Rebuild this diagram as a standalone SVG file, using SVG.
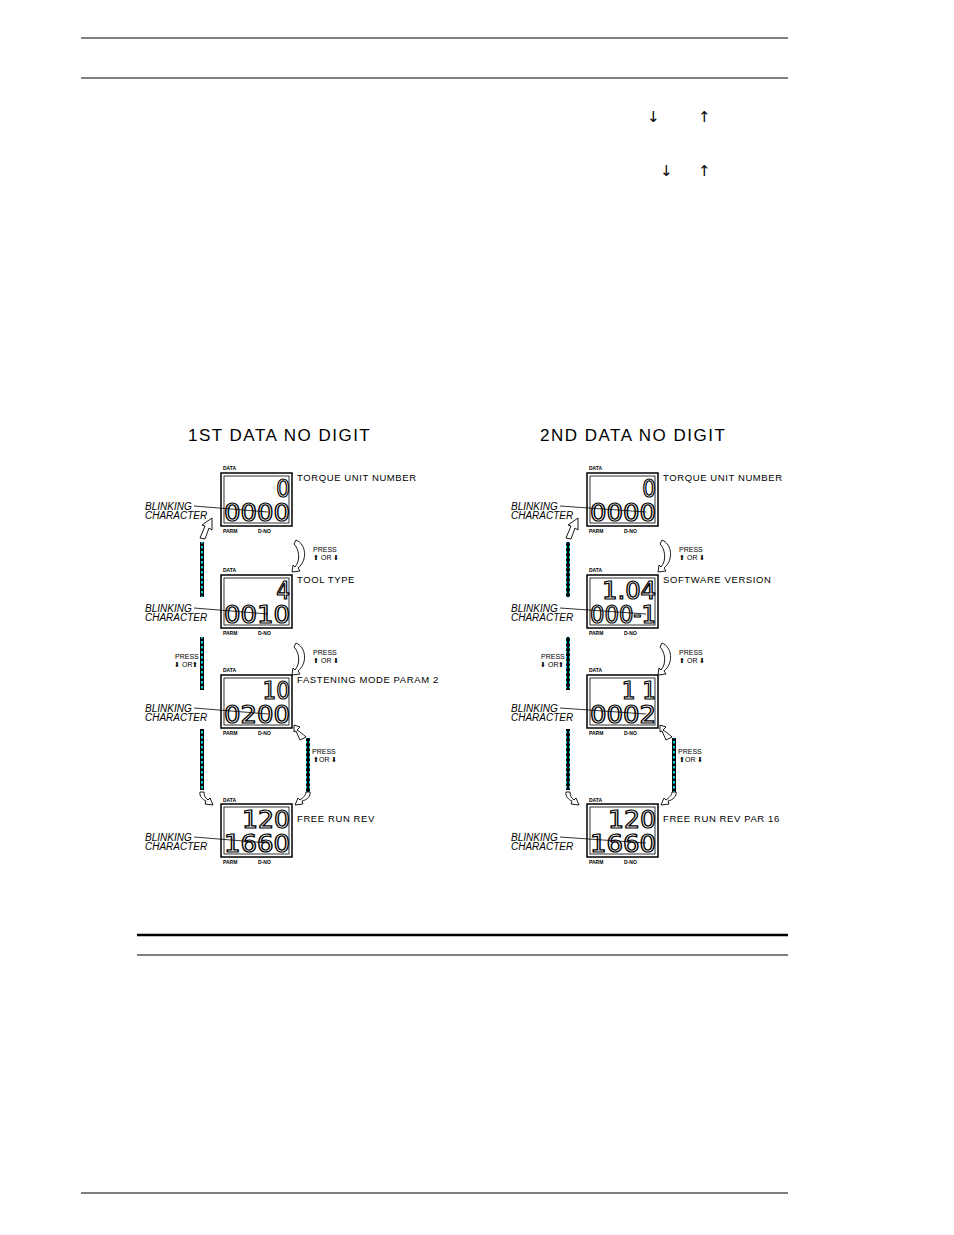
<svg xmlns="http://www.w3.org/2000/svg" width="954" height="1235" viewBox="0 0 954 1235">
<defs>
<style>
.t{font-family:"Liberation Sans",Arial,sans-serif;fill:#000}
.lbl{font-size:9.5px;letter-spacing:0.6px}
.ttl{font-size:17px;letter-spacing:1.5px}
.bl{font-size:10px;font-style:italic}
.sm{font-size:5px;font-weight:bold}
.pr{font-size:7px}
.dig{font-family:"DejaVu Sans Condensed","Liberation Sans Narrow",sans-serif;font-size:24px;fill:#fff;stroke:#000;stroke-width:1.2;text-anchor:end}
.box{fill:none;stroke:#000;stroke-width:1.5}
.arr{fill:#fff;stroke:#000;stroke-width:0.9}
.ln{stroke:#000;stroke-width:0.8;fill:none}
</style>
<pattern id="dots" width="4" height="5" patternUnits="userSpaceOnUse"><rect width="4" height="5" fill="#000"/><rect x="1" y="1" width="2" height="2.5" fill="#00d0e0"/></pattern>
</defs>
<rect width="954" height="1235" fill="#fff"/>
<g id="rules">
<line x1="81" y1="38" x2="788" y2="38" stroke="#000" stroke-width="1"/>
<line x1="81" y1="78" x2="788" y2="78" stroke="#000" stroke-width="1"/>
<line x1="137" y1="935" x2="788" y2="935" stroke="#000" stroke-width="2.5"/>
<line x1="137" y1="955" x2="788" y2="955" stroke="#000" stroke-width="1"/>
<line x1="81" y1="1193" x2="788" y2="1193" stroke="#000" stroke-width="1"/>
</g>
<g id="toparrows" font-family="DejaVu Sans,sans-serif" font-size="15" fill="#000">
<text x="647" y="122">↓</text><text x="698" y="122">↑</text>
<text x="660" y="176">↓</text><text x="698" y="176">↑</text>
</g>
<text class="t ttl" x="188" y="441">1ST DATA NO DIGIT</text>
<text class="t ttl" x="540" y="441">2ND DATA NO DIGIT</text>

<g id="L1">
<text class="t sm" x="223" y="470">DATA</text>
<rect class="box" x="221" y="473" width="71" height="53"/><rect class="ln" x="224" y="476" width="65" height="47"/>
<text class="dig" x="290" y="497">0</text><text class="dig" x="290" y="521" textLength="66" lengthAdjust="spacingAndGlyphs">0000</text>
<text class="t sm" x="223" y="533">PARM</text><text class="t sm" x="258" y="533">D-NO</text>
<text class="t lbl" x="297" y="481">TORQUE UNIT NUMBER</text>
<text class="t bl" x="145" y="510">BLINKING</text><text class="t bl" x="145" y="519">CHARACTER</text>
<line class="ln" x1="194" y1="506" x2="268" y2="512"/>
</g>
<g id="L2">
<text class="t sm" x="223" y="572">DATA</text>
<rect class="box" x="221" y="575" width="71" height="53"/><rect class="ln" x="224" y="578" width="65" height="47"/>
<text class="dig" x="290" y="599">4</text><text class="dig" x="290" y="623" textLength="66" lengthAdjust="spacingAndGlyphs">0010</text>
<text class="t sm" x="223" y="635">PARM</text><text class="t sm" x="258" y="635">D-NO</text>
<text class="t lbl" x="297" y="583">TOOL TYPE</text>
<text class="t bl" x="145" y="612">BLINKING</text><text class="t bl" x="145" y="621">CHARACTER</text>
<line class="ln" x1="194" y1="608" x2="268" y2="614"/>
</g>
<g id="L3">
<text class="t sm" x="223" y="672">DATA</text>
<rect class="box" x="221" y="675" width="71" height="53"/><rect class="ln" x="224" y="678" width="65" height="47"/>
<text class="dig" x="290" y="699">10</text><text class="dig" x="290" y="723" textLength="66" lengthAdjust="spacingAndGlyphs">0200</text>
<text class="t sm" x="223" y="735">PARM</text><text class="t sm" x="258" y="735">D-NO</text>
<text class="t lbl" x="297" y="683">FASTENING MODE PARAM 2</text>
<text class="t bl" x="145" y="712">BLINKING</text><text class="t bl" x="145" y="721">CHARACTER</text>
<line class="ln" x1="194" y1="708" x2="268" y2="714"/>
</g>
<g id="L4">
<text class="t sm" x="223" y="802">DATA</text>
<rect class="box" x="221" y="804" width="71" height="53"/><rect class="ln" x="224" y="807" width="65" height="47"/>
<text class="dig" x="290" y="828" textLength="48" lengthAdjust="spacingAndGlyphs">120</text><text class="dig" x="290" y="852" textLength="66" lengthAdjust="spacingAndGlyphs">1660</text>
<text class="t sm" x="223" y="864">PARM</text><text class="t sm" x="258" y="864">D-NO</text>
<text class="t lbl" x="297" y="822">FREE RUN REV</text>
<text class="t bl" x="145" y="841">BLINKING</text><text class="t bl" x="145" y="850">CHARACTER</text>
<line class="ln" x1="194" y1="837" x2="268" y2="843"/>
</g>

<g id="R1">
<text class="t sm" x="589" y="470">DATA</text>
<rect class="box" x="587" y="473" width="71" height="53"/><rect class="ln" x="590" y="476" width="65" height="47"/>
<text class="dig" x="656" y="497">0</text><text class="dig" x="656" y="521" textLength="66" lengthAdjust="spacingAndGlyphs">0000</text>
<text class="t sm" x="589" y="533">PARM</text><text class="t sm" x="624" y="533">D-NO</text>
<text class="t lbl" x="663" y="481">TORQUE UNIT NUMBER</text>
<text class="t bl" x="511" y="510">BLINKING</text><text class="t bl" x="511" y="519">CHARACTER</text>
<line class="ln" x1="560" y1="506" x2="646" y2="512"/>
</g>
<g id="R2">
<text class="t sm" x="589" y="572">DATA</text>
<rect class="box" x="587" y="575" width="71" height="53"/><rect class="ln" x="590" y="578" width="65" height="47"/>
<text class="dig" x="656" y="599" textLength="54" lengthAdjust="spacingAndGlyphs">1.04</text><text class="dig" x="656" y="623" textLength="66" lengthAdjust="spacingAndGlyphs">000-1</text>
<text class="t sm" x="589" y="635">PARM</text><text class="t sm" x="624" y="635">D-NO</text>
<text class="t lbl" x="663" y="583">SOFTWARE VERSION</text>
<text class="t bl" x="511" y="612">BLINKING</text><text class="t bl" x="511" y="621">CHARACTER</text>
<line class="ln" x1="560" y1="608" x2="646" y2="614"/>
</g>
<g id="R3">
<text class="t sm" x="589" y="672">DATA</text>
<rect class="box" x="587" y="675" width="71" height="53"/><rect class="ln" x="590" y="678" width="65" height="47"/>
<text class="dig" x="656" y="699">1 1</text><text class="dig" x="656" y="723" textLength="66" lengthAdjust="spacingAndGlyphs">0002</text>
<text class="t sm" x="589" y="735">PARM</text><text class="t sm" x="624" y="735">D-NO</text>
<text class="t bl" x="511" y="712">BLINKING</text><text class="t bl" x="511" y="721">CHARACTER</text>
<line class="ln" x1="560" y1="708" x2="646" y2="714"/>
</g>
<g id="R4">
<text class="t sm" x="589" y="802">DATA</text>
<rect class="box" x="587" y="804" width="71" height="53"/><rect class="ln" x="590" y="807" width="65" height="47"/>
<text class="dig" x="656" y="828" textLength="48" lengthAdjust="spacingAndGlyphs">120</text><text class="dig" x="656" y="852" textLength="66" lengthAdjust="spacingAndGlyphs">1660</text>
<text class="t sm" x="589" y="864">PARM</text><text class="t sm" x="624" y="864">D-NO</text>
<text class="t lbl" x="663" y="822">FREE RUN REV PAR 16</text>
<text class="t bl" x="511" y="841">BLINKING</text><text class="t bl" x="511" y="850">CHARACTER</text>
<line class="ln" x1="560" y1="837" x2="646" y2="843"/>
</g>

<g id="connectors">
<rect x="200" y="542" width="4" height="55" fill="url(#dots)"/>
<rect x="200" y="637" width="4" height="53" fill="url(#dots)"/>
<rect x="200" y="729" width="4" height="61" fill="url(#dots)"/>
<rect x="306" y="738" width="4" height="55" fill="url(#dots)"/>
<rect x="566" y="542" width="4" height="55" fill="url(#dots)"/>
<rect x="566" y="637" width="4" height="53" fill="url(#dots)"/>
<rect x="566" y="729" width="4" height="61" fill="url(#dots)"/>
<rect x="672" y="738" width="4" height="55" fill="url(#dots)"/>
<g id="arrows">
<path class="arr" d="M200,538 L205,526 L202,525 L212,518 L212,530 L209,528 L205,539 Z"/>
<path class="arr" d="M566,538 L571,526 L568,525 L578,518 L578,530 L575,528 L571,539 Z"/>
<path class="arr" d="M296,540 C306,544 308,560 298,568 L300,571 L292,572 L293,565 L295,567 C301,560 299,549 294,544 Z"/>
<path class="arr" d="M296,643 C306,647 308,663 298,671 L300,674 L292,675 L293,668 L295,670 C301,663 299,652 294,647 Z"/>
<path class="arr" d="M662,540 C672,544 674,560 664,568 L666,571 L658,572 L659,565 L661,567 C667,560 665,549 660,544 Z"/>
<path class="arr" d="M662,643 C672,647 674,663 664,671 L666,674 L658,675 L659,668 L661,670 C667,663 665,652 660,647 Z"/>
<path class="arr" d="M300,740 L306,737 C303,734 300,732 297,730 L300,727 L294,725 L294,732 L296,731 Z"/>
<path class="arr" d="M666,740 L672,737 C669,734 666,732 663,730 L666,727 L660,725 L660,732 L662,731 Z"/>
<path class="arr" d="M200,792 C199,796 203,800 206,801 L205,804 L213,805 L210,798 L208,800 C205,798 204,795 204,792 Z"/>
<path class="arr" d="M566,792 C565,796 569,800 572,801 L571,804 L579,805 L576,798 L574,800 C571,798 570,795 570,792 Z"/>
<path class="arr" d="M310,792 C311,796 307,800 302,801 L303,804 L295,805 L298,798 L300,800 C303,798 306,795 306,792 Z"/>
<path class="arr" d="M676,792 C677,796 673,800 668,801 L669,804 L661,805 L664,798 L666,800 C669,798 672,795 672,792 Z"/>
</g>
<g class="t pr">
<text x="313" y="552">PRESS</text><text x="313" y="560">⬆ OR ⬇</text>
<text x="313" y="655">PRESS</text><text x="313" y="663">⬆ OR ⬇</text>
<text x="175" y="659">PRESS</text><text x="174" y="667">⬇ OR⬆</text>
<text x="312" y="754">PRESS</text><text x="313" y="762">⬆OR ⬇</text>
<text x="679" y="552">PRESS</text><text x="679" y="560">⬆ OR ⬇</text>
<text x="679" y="655">PRESS</text><text x="679" y="663">⬆ OR ⬇</text>
<text x="541" y="659">PRESS</text><text x="540" y="667">⬇ OR⬆</text>
<text x="678" y="754">PRESS</text><text x="679" y="762">⬆OR ⬇</text>
</g>
</g>
</svg>
